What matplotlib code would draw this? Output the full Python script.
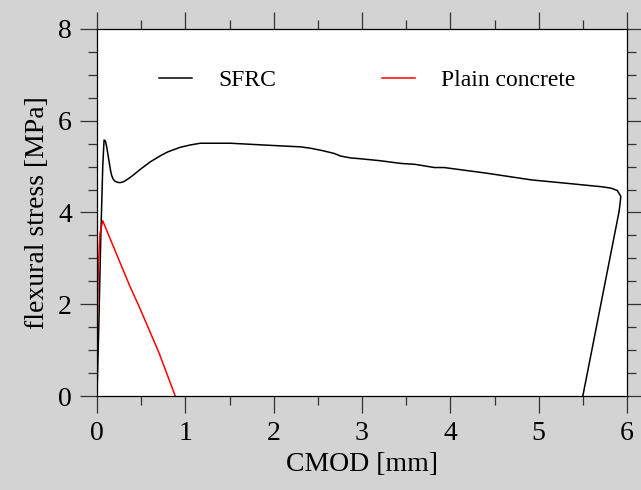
import matplotlib
matplotlib.use("Agg")
import matplotlib.pyplot as plt
from matplotlib.ticker import MultipleLocator

# ---------------------------
# Data
# ---------------------------
sfrc_cmod = [0.0, 0.02, 0.042, 0.065, 0.08, 0.095, 0.11, 0.125, 0.14, 0.155,
             0.167, 0.185, 0.205, 0.23, 0.26, 0.30, 0.35, 0.40, 0.49, 0.6,
             0.72, 0.8, 0.94, 1.05, 1.17, 1.51, 1.9, 2.31, 2.42, 2.55, 2.68,
             2.76, 2.87, 2.99, 3.2, 3.44, 3.6, 3.82, 3.93, 4.4, 4.92, 5.3,
             5.72, 5.82, 5.89, 5.93, 5.92, 5.91, 5.50]
sfrc_stress = [0.0, 1.5, 3.4, 5.0, 5.58, 5.56, 5.43, 5.25, 5.07, 4.9,
               4.8, 4.72, 4.68, 4.66, 4.65, 4.67, 4.73, 4.80, 4.94, 5.10,
               5.24, 5.32, 5.42, 5.47, 5.51, 5.51, 5.47, 5.43, 5.40, 5.35,
               5.29, 5.23, 5.19, 5.17, 5.13, 5.07, 5.05, 4.98, 4.98, 4.86,
               4.71, 4.64, 4.56, 4.53, 4.48, 4.35, 4.17, 4.02, 0.0]

plain_cmod = [0.0, 0.003, 0.015, 0.034, 0.065, 0.2, 0.375, 0.47, 0.564,
              0.7, 0.886]
plain_stress = [0.0, 1.37, 2.82, 3.55, 3.82, 3.19, 2.38, 1.98, 1.56,
                0.95, 0.0]

labels = ["SFRC", "Plain concrete"]

plt.rcParams['font.family'] = ['Liberation Serif', 'DejaVu Serif']

fig = plt.figure(figsize=(6.41, 4.90), dpi=100, facecolor='#d3d3d3')
ax = fig.add_axes([97 / 641, 94 / 490, 530 / 641, 367 / 490])
ax.set_facecolor('white')

ax.plot(sfrc_cmod, sfrc_stress, color='black', lw=1.1, label=labels[0])
ax.plot(plain_cmod, plain_stress, color='red', lw=1.1, label=labels[1])

ax.set_xlim(0, 6)
ax.set_ylim(0, 8)
ax.xaxis.set_major_locator(MultipleLocator(1))
ax.xaxis.set_minor_locator(MultipleLocator(0.5))
ax.yaxis.set_major_locator(MultipleLocator(2))
ax.yaxis.set_minor_locator(MultipleLocator(0.5))

ax.tick_params(which='both', direction='out', top=True, right=True,
               width=0.9, labelsize=20, color='#333333')
ax.tick_params(which='major', length=12, pad=6)
ax.tick_params(which='minor', length=6.5)
for s in ax.spines.values():
    s.set_linewidth(0.9)

ax.set_xlabel('CMOD [mm]', fontsize=20, labelpad=4)
ax.set_ylabel('flexural stress [MPa]', fontsize=20, labelpad=6)

ax.legend(loc='center left', bbox_to_anchor=(0.117, 0.861), ncol=2,
          frameon=False, fontsize=17, handlelength=1.4, handletextpad=1.1,
          columnspacing=4.5, borderpad=0, borderaxespad=0)

fig.savefig('out.png', dpi=100, facecolor=fig.get_facecolor())
